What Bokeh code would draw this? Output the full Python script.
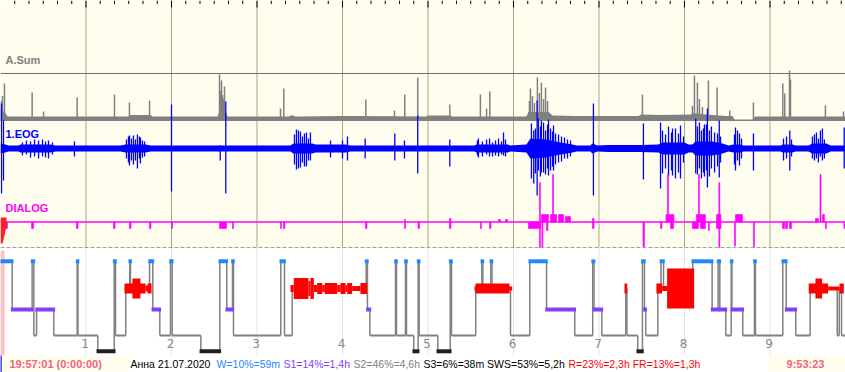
from bokeh.plotting import figure
from bokeh.models import Range1d
from bokeh.embed import file_html
from bokeh.resources import INLINE
from bokeh.core.properties import value

# ---------------- data (time in minutes from 19:57:01) ----------------
record_end_min = 593.0
hour_ticks = [60, 120, 180, 240, 300, 360, 420, 480, 540]
hour_labels = ["1", "2", "3", "4", "5", "6", "7", "8", "9"]

# A.Sum channel: noise envelope + spikes (amplitude above baseline)
asum_env_t = [0, 3.5, 4.9, 89.8, 91.2, 105.3, 106.7, 152.3, 153.7, 157.9, 159.3, 202.8, 204.2, 207.0,
              238.6, 249.8, 298.9, 300.3, 315.8, 317.2, 369.1, 370.5, 384.6, 387.4, 403.5, 447.7,
              449.8, 463.2, 484.2, 486.3, 491.2, 508.8, 513.7, 515.1, 527.7, 529.8, 593.0]
asum_env_amp = [12, 8, 4.5, 4.5, 6, 6, 4.5, 4.5, 10, 10, 4.5, 4.5, 6, 4.5,
                5, 5, 4.5, 5.5, 5.5, 4.5, 4.5, 9, 9, 5.5, 5, 5,
                6.5, 6, 6.5, 8, 7, 5, 5, 1.5, 1.5, 4.5, 4.5]
asum_spike_t = [0.4, 1.4, 2.8, 22.2, 30.2, 53.8, 80.0, 90.5, 104.6, 153.7, 154.4, 155.1, 155.8, 156.5,
                157.2, 196.5, 198.8, 256.4, 276.5, 283.7, 292.8, 315.3, 336.8, 341.1, 343.4, 371.2,
                371.9, 373.3, 374.7, 376.8, 378.2, 379.6, 381.1, 382.5, 383.9, 450.5, 485.6, 487.0,
                489.1, 490.5, 492.6, 496.8, 502.9, 511.8, 528.4, 549.0, 550.4, 553.7, 554.4, 578.9,
                591.6]
asum_spike_amp = [20, 25, 37.5, 28.5, 9.5, 23.5, 26.5, 18.5, 20.5, 46.5, 30, 40.5, 26, 22,
                  34.5, 12.5, 32.5, 21.5, 10.5, 26.5, 43.5, 16.5, 26.5, 12.5, 29.5, 20,
                  32.5, 25, 18, 43.5, 28, 38.5, 22, 33.5, 20, 26.5, 15, 45.5,
                  38.5, 22, 14, 40.5, 33.5, 10.5, 18.5, 37.5, 27.5, 50.5, 41.5, 15.5,
                  9.5]

# 1.EOG channel: noise half-width envelope + spikes (up / down)
eog_env_t = [0, 3.5, 5.6, 12.6, 14.0, 35.1, 38.6, 84.2, 87.7, 101.8, 105.3, 203.5, 205.6, 218.9,
             221.1, 242.1, 245.6, 332.6, 334.0, 355.8, 357.9, 369.1, 371.9, 382.5, 393.0, 401.4,
             404.2, 414.0, 415.4, 418.9, 426.7, 449.1, 461.8, 464.6, 480.0, 482.8, 485.6, 487.7,
             499.6, 506.7, 510.9, 514.4, 519.3, 521.4, 547.4, 548.8, 555.8, 557.9, 567.0, 569.8,
             579.6, 582.5, 593.0]
eog_env_hw = [5, 4, 3, 3, 4, 4, 3, 3, 4, 4, 3, 3, 5, 5,
              4, 4, 3, 3, 4, 4, 3, 4, 10, 9, 6, 4,
              3, 3, 5, 3, 3.5, 3.5, 4, 6, 6, 4, 4, 7,
              7, 5, 3, 4, 4, 3, 3, 4, 4, 3, 3, 5,
              5, 3, 3]
eog_spike_t = [0.7, 2.1, 15.4, 18.2, 21.1, 23.9, 26.7, 29.5, 31.6, 33.7, 36.5, 51.9, 88.4, 89.8,
               90.5, 91.9, 93.3, 94.7, 96.1, 97.5, 98.2, 99.6, 101.1, 120.0, 154.2, 158.1, 206.3,
               207.7, 209.1, 210.5, 211.9, 213.3, 214.7, 216.1, 217.5, 231.6, 240.0, 243.5, 255.9,
               276.7, 283.5, 292.8, 315.3, 334.7, 335.4, 338.2, 341.1, 343.2, 345.3, 347.4, 349.5,
               351.6, 353.0, 354.4, 372.6, 374.2, 375.4, 376.6, 377.5, 378.9, 379.6, 381.1, 382.5,
               383.9, 384.6, 386.0, 387.4, 388.1, 389.5, 391.6, 393.7, 395.8, 397.9, 400.0, 416.1,
               451.2, 463.2, 464.6, 466.7, 468.8, 470.9, 471.6, 473.7, 475.8, 477.2, 479.3, 487.9,
               489.1, 490.5, 491.9, 493.3, 494.0, 495.4, 496.1, 497.5, 498.9, 501.1, 503.2, 504.4,
               505.3, 515.1, 515.8, 517.2, 518.6, 520.0, 528.4, 549.5, 551.6, 553.9, 555.1, 569.8,
               571.2, 572.6, 574.0, 575.4, 576.8, 578.2, 592.1]
eog_spike_up = [45, 28, 6, 8, 7, 9, 8, 9, 7, 8, 6, 7, 9, 12,
                13, 10, 13, 9, 14, 12, 11, 8, 7, 44, 3, 47, 14,
                19, 18, 17, 12, 15, 16, 10, 16, 8, 8, 12, 10,
                15, 8, 33, 9, 8, 10, 7, 9, 10, 6, 8, 10,
                7, 16, 9, 25, 18, 20, 48, 30, 22, 28, 26, 18,
                24, 29, 20, 17, 23, 15, 14, 12, 11, 9, 8, 45,
                25, 26, 18, 14, 22, 16, 20, 20, 15, 23, 12, 30,
                22, 26, 18, 20, 24, 24, 40, 18, 22, 16, 15, 28,
                12, 14, 21, 18, 15, 10, 15, 10, 12, 18, 9, 12,
                14, 16, 10, 18, 20, 9, 21]
eog_spike_down = [45, 32, 7, 6, 9, 8, 10, 8, 9, 10, 6, 8, 10, 14,
                  17, 12, 16, 12, 20, 10, 15, 9, 8, 43, 12, 45, 16,
                  21, 20, 19, 14, 18, 18, 12, 12, 9, 10, 12, 10,
                  12, 10, 25, 18, 7, 9, 8, 6, 8, 8, 7, 8,
                  6, 7, 8, 30, 35, 25, 47, 22, 28, 24, 24, 26,
                  20, 27, 22, 18, 22, 16, 14, 13, 10, 10, 8, 47,
                  31, 40, 25, 20, 28, 22, 27, 30, 24, 30, 14, 25,
                  26, 20, 30, 24, 28, 22, 39, 28, 20, 24, 18, 29,
                  14, 16, 22, 12, 17, 10, 22, 12, 10, 22, 8, 10,
                  12, 10, 14, 8, 12, 10, 20]

# DIALOG channel: event bars (start, end, high, low relative to baseline)
dialog_t0 = [2.8, 21.8, 53.3, 79.3, 90.5, 104.6, 120.0, 153.7, 162.8, 196.5, 198.6, 256.1, 283.5,
             293.0, 315.1, 336.8, 343.2, 349.5, 354.4, 370.5, 378.2, 379.9, 379.6, 386.0, 391.6,
             396.5, 387.4, 383.2, 415.4, 450.9, 463.2, 467.0, 468.1, 470.2, 485.6, 488.4, 489.8,
             491.2, 496.8, 502.5, 504.1, 515.1, 515.8, 528.4, 548.8, 550.9, 553.7, 571.9, 575.1,
             576.8, 578.9, 591.9]
dialog_t1 = [4.9, 23.2, 54.4, 80.4, 91.6, 105.6, 120.7, 158.6, 163.5, 197.2, 199.6, 257.2, 284.2,
             294.0, 316.1, 337.5, 344.2, 350.9, 355.8, 378.9, 378.9, 380.6, 384.6, 390.2, 395.1,
             400.0, 388.1, 384.2, 416.5, 451.9, 464.2, 472.6, 468.8, 472.3, 489.8, 494.7, 490.5,
             494.7, 497.5, 505.6, 504.8, 515.8, 520.7, 529.1, 550.2, 552.3, 555.1, 574.0, 575.8,
             578.2, 579.6, 593.0]
dialog_hi = [0, 0, 0, 0, 0, 0, 0, 0, 0, 0, 0, 0, 2.5,
             0, 3.5, 0, 0, 2.5, 2.5, 0, 39.5, 0, 7.5, 7.5, 7.5,
             5.5, 47.5, 0, 3.5, 0, 0, 7.5, 47.5, 0, 0, 7.5, 47.5,
             0, 0, 7.5, 39.5, 0, 7.5, 0, 0, 0, 0, 3.5, 47.5,
             7.5, 0, 0]
dialog_lo = [-6.5, -6.5, -6.5, -6.5, -6.5, -6.5, -6.5, -6.5, -6.5, -6.5, -6.5, -6.5, -6.5,
             -6.5, -6.5, -6.5, -6.5, 0, 0, -6.5, -25.5, -25.5, 0, 0, 0,
             0, 0, -8.5, -6.5, -25.5, -6.5, 0, 0, -6.5, -6.5, 0, 0,
             -6.5, -8.5, -6.5, -25.5, -24, 0, -25.5, -6.5, -6.5, -6.5, 0, 0,
             0, -6.5, -6.5]

# Hypnogram
stage_codes = ["W", "S1", "W", "S2", "S1", "S2", "W", "S2", "S3", "W", "S2", "R", "W", "R", "W", "S1",
               "S2", "W", "S2", "S3", "W", "S1", "W", "S2", "W", "S2", "R", "W", "S1", "S2", "W", "S2",
               "W", "S2", "S3", "W", "S2", "S3", "W", "S2", "R", "W", "R", "W", "R", "S2", "W", "S1",
               "S2", "W", "S1", "S2", "R", "S2", "S3", "W", "S1", "S2", "R", "W", "R", "W", "S1", "W",
               "S1", "S2", "W", "S1", "S2", "W", "S2", "W", "S1", "S2", "R", "S2", "R", "S2"]
stage_edges = [0, 8.2, 22.2, 23.4, 25.3, 37.4, 53.8, 54.4, 68.3, 79.8, 80.7, 87.9, 90.7, 91.2, 104.6,
               106.9, 111.8, 119.3, 120.5, 140.6, 153.9, 158.8, 162.8, 163.5, 196.7, 199.3, 204.7,
               256.6, 257.5, 259.2, 277.2, 277.9, 284.2, 284.9, 290.0, 293.1, 293.8, 306.9, 315.6,
               316.5, 333.5, 337.8, 338.5, 344.1, 344.9, 357.9, 371.4, 383.2, 403.0, 415.6, 416.5,
               422.0, 438.8, 439.6, 447.2, 450.5, 451.9, 452.8, 461.3, 463.5, 465.3, 485.8, 499.4,
               503.6, 504.8, 509.0, 512.8, 513.3, 520.9, 529.1, 529.8, 549.0, 551.4, 558.1, 568.2,
               587.2, 588.6, 590.2, 593.0]
rem_t0 = [87.0, 92.6, 101.8, 103.2, 203.5, 205.8, 216.1, 217.5, 219.9, 222.2, 225.8, 227.6, 236.3,
          238.6, 242.1, 243.3, 246.8, 252.6, 332.6, 333.3, 437.9, 460.3, 464.3, 467.8, 567.2, 571.9,
          580.8, 588.8]
rem_t1 = [101.8, 98.2, 103.9, 106.0, 205.8, 216.1, 217.5, 219.9, 222.2, 225.8, 227.6, 236.3, 238.6,
          242.1, 243.3, 246.8, 252.6, 257.3, 359.1, 357.2, 439.8, 464.3, 467.8, 486.8, 580.8, 576.6,
          588.8, 591.8]
rem_density = [10, 20, 6, 10, 7, 21, 15, 21, 7, 11, 7, 11, 7, 11, 7, 11, 5, 11, 4, 10, 10, 10, 5, 40,
               10, 20, 4, 10]

start_clock = "19:57:01 (0:00:00)"
end_clock = "9:53:23"
summary_parts = ["Анна 21.07.2020", "W=10%=59m", "S1=14%=1,4h", "S2=46%=4,6h",
                 "S3=6%=38m SWS=53%=5,2h", "R=23%=2,3h FR=13%=1,3h"]

# ---------------- layout / style ----------------
PX = 60 / 85.5            # minutes per reference pixel
CREAM = "#FFFDEE"
FONT = value("Liberation Sans")
summary_px = [130, 216, 283, 353, 423, 568]
summary_colors = ["#000000", "#1E88FF", "#8040FF", "#808080", "#000000", "#FF0000"]

ASUM_BASE, EOG_BASE, DLG_BASE = 120.5, 148.0, 221.5
LEVEL = {"W": 260.8, "R": 288.0, "S1": 309.0, "S2": 335.0, "S3": 350.8}
BAR_HALF = 2.0
PAD = 1.3 * PX

p = figure(width=845, height=372, x_range=Range1d(0, record_end_min), y_range=Range1d(372, 0),
           output_backend="svg", toolbar_location=None, x_axis_location=None, y_axis_location=None,
           min_border=0, outline_line_color=None, background_fill_color="white",
           border_fill_color="white")
p.grid.visible = False

# backgrounds
p.quad(left=0, right=record_end_min, top=0, bottom=247, fill_color=CREAM, line_color=None)
p.quad(left=0, right=4 * PX, top=250, bottom=355, fill_color="#FFC0C0", line_color=None)

# grid lines
p.segment(x0=hour_ticks, x1=hour_ticks, y0=[0] * 9, y1=[247] * 9, line_color="#A8A880", line_width=1)
p.segment(x0=hour_ticks, x1=hour_ticks, y0=[248] * 9, y1=[355] * 9, line_color="#E4E4E4", line_width=1)

# top ticks
minor = [m for m in range(10, 593, 10) if m % 60]
p.segment(x0=minor, x1=minor, y0=[0] * len(minor), y1=[3.5] * len(minor), line_color="black", line_width=1)
p.segment(x0=hour_ticks, x1=hour_ticks, y0=[0] * 9, y1=[7] * 9, line_color="black", line_width=1)

# A.Sum separator
p.line(x=[0, record_end_min], y=[73, 73], line_color="#707070", line_width=1.2)

# A.Sum trace
p.varea(x=asum_env_t, y1=[ASUM_BASE - a for a in asum_env_amp], y2=[ASUM_BASE] * len(asum_env_t),
        fill_color="#808080")
p.segment(x0=asum_spike_t, x1=asum_spike_t, y0=[ASUM_BASE - a for a in asum_spike_amp],
          y1=[ASUM_BASE] * len(asum_spike_t), line_color="#808080", line_width=1.5)

# EOG trace
p.varea(x=eog_env_t, y1=[EOG_BASE - h for h in eog_env_hw], y2=[EOG_BASE + h for h in eog_env_hw],
        fill_color="#0000FF")
p.segment(x0=eog_spike_t, x1=eog_spike_t, y0=[EOG_BASE - u for u in eog_spike_up],
          y1=[EOG_BASE + d for d in eog_spike_down], line_color="#0000FF", line_width=1.3)

# DIALOG trace
p.line(x=[0, record_end_min], y=[DLG_BASE, DLG_BASE], line_color="#FF00FF", line_width=1.5)
p.quad(left=dialog_t0, right=dialog_t1, top=[DLG_BASE - h for h in dialog_hi],
       bottom=[DLG_BASE - lo for lo in dialog_lo], fill_color="#FF00FF", line_color="#FF00FF", line_width=0.6)
p.patch(x=[0, 6 * PX, 6 * PX, 4 * PX, 2 * PX, 0], y=[217, 217, 225, 235, 243, 243],
        fill_color="#FF2020", line_color=None)

# channel labels
p.text(x=[5 * PX], y=[59], text=["A.Sum"], text_font=FONT, text_font_size="11px",
       text_font_style="bold", text_color="#808080", text_baseline="middle")
p.text(x=[5 * PX], y=[133], text=["1.EOG"], text_font=FONT, text_font_size="11px",
       text_font_style="bold", text_color="#0000FF", text_baseline="middle")
p.text(x=[5 * PX], y=[207], text=["DIALOG"], text_font=FONT, text_font_size="11px",
       text_font_style="bold", text_color="#FF00FF", text_baseline="middle")

# dashed boundary
p.line(x=[0, record_end_min], y=[247, 247], line_color="#A0A0A0", line_width=1.2, line_dash="4 2")

# hypnogram transitions
tx, ty0, ty1 = [], [], []
for i in range(1, len(stage_codes)):
    tx.append(stage_edges[i])
    ty0.append(LEVEL[stage_codes[i - 1]])
    ty1.append(LEVEL[stage_codes[i]])
p.segment(x0=tx, x1=tx, y0=ty0, y1=ty1, line_color="#808080", line_width=1.5)

segs = list(zip(stage_codes, stage_edges[:-1], stage_edges[1:]))
s2 = [(a, b) for s, a, b in segs if s == "S2"]
p.segment(x0=[a for a, b in s2], x1=[b for a, b in s2], y0=[LEVEL["S2"]] * len(s2),
          y1=[LEVEL["S2"]] * len(s2), line_color="#808080", line_width=2)


def bars(stage, color):
    sel = [(a, b) for s, a, b in segs if s == stage]
    left = [a - PAD for a, b in sel]
    right = [max(b + PAD, a + 2.2 * PX) for a, b in sel]
    y = LEVEL[stage]
    p.quad(left=left, right=right, top=[y - BAR_HALF] * len(sel), bottom=[y + BAR_HALF] * len(sel),
           fill_color=color, line_color=None)


bars("S1", "#8040FF")
bars("S3", "#202020")
p.quad(left=rem_t0, right=rem_t1, top=[LEVEL["R"] - d / 2 for d in rem_density],
       bottom=[LEVEL["R"] + d / 2 for d in rem_density], fill_color="#FF0000", line_color=None)
bars("W", "#1E88FF")

# hour labels
p.text(x=[h - 0.7 for h in hour_ticks], y=[343] * 9, text=hour_labels, text_font=value("DejaVu Sans"),
       text_font_size="12px", text_color="#888888", text_align="center", text_baseline="middle")

# status bar
p.quad(left=0, right=129 * PX, top=355, bottom=372, fill_color=CREAM, line_color=None)
p.quad(left=768 * PX, right=record_end_min, top=355, bottom=372, fill_color=CREAM, line_color=None)
p.line(x=[0.3, 0.3], y=[355, 372], line_color="#0000FF", line_width=1.5)
p.text(x=[9 * PX], y=[363.5], text=[start_clock], text_font=FONT, text_font_size="11px",
       text_font_style="bold", text_color="#F06284", text_baseline="middle")
p.text(x=[805 * PX], y=[363.5], text=[end_clock], text_font=FONT, text_font_size="11px",
       text_font_style="bold", text_color="#F06284", text_baseline="middle", text_align="center")
p.text(x=[x * PX for x in summary_px], y=[363.5] * len(summary_parts), text=summary_parts,
       text_font=FONT, text_font_size="10.5px", text_color=summary_colors, text_baseline="middle")

open("out.html", "w").write(file_html(p, INLINE))
